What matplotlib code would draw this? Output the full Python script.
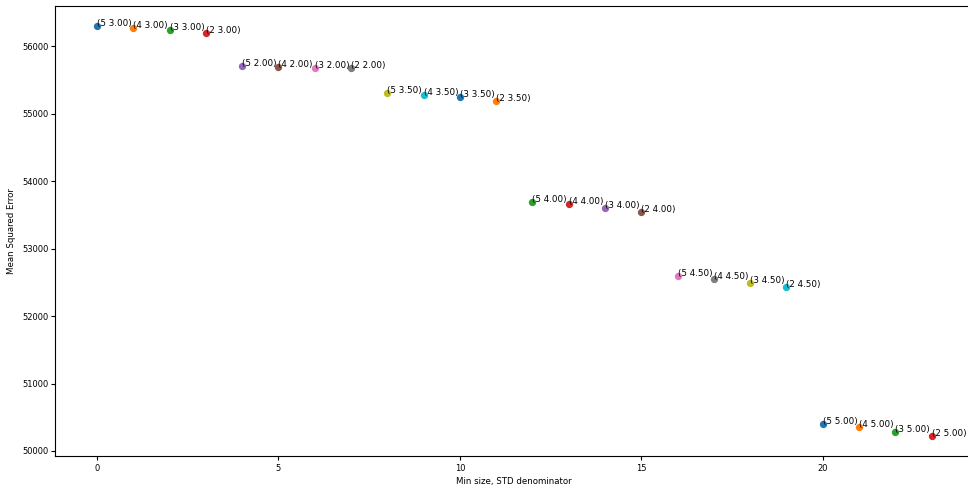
import matplotlib
matplotlib.use('Agg')
import matplotlib.pyplot as plt
import numpy as np

plt.rc('font', size=6.2)
plt.rc('xtick', labelsize=6.0)
plt.rc('ytick', labelsize=6.0)
plt.rc('xtick.major', size=3, pad=2.5)
plt.rc('ytick.major', size=3, pad=2.0)

# grid search results: (min size, std denominator) -> MSE
min_sizes = [5, 4, 3, 2] * 6
std_denoms = [3.00]*4 + [2.00]*4 + [3.50]*4 + [4.00]*4 + [4.50]*4 + [5.00]*4
mse = [56295, 56276, 56241, 56197,
       55715, 55695, 55680, 55675,
       55310, 55286, 55242, 55192,
       53685, 53656, 53603, 53548,
       52592, 52554, 52489, 52430,
       50402, 50353, 50288, 50229]

fig = plt.figure(figsize=(9.68, 4.88), dpi=100)
ax = fig.add_axes([55.3/968, 32/488, 918/968, 450/488])

for i in range(len(mse)):
    ax.scatter(i, mse[i], s=18)
    ax.text(i, mse[i], '(%d %.2f)' % (min_sizes[i], std_denoms[i]), fontsize=6.3)

ax.set_xlabel('Min size, STD denominator', labelpad=3)
ax.set_ylabel('Mean Squared Error', labelpad=4)
ax.set_xticks([0, 5, 10, 15, 20])

fig.savefig('out.png', dpi=100)
